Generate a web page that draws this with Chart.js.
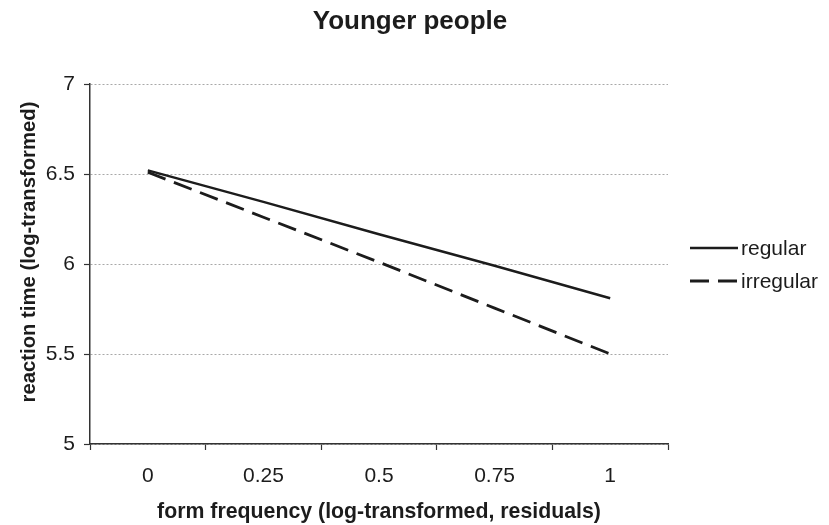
<!DOCTYPE html>
<html>
<head>
<meta charset="utf-8">
<script src="https://cdn.jsdelivr.net/npm/chart.js@4"></script>
<style>
  html, body { margin: 0; padding: 0; background: #fff; }
  canvas { display: block; }
</style>
</head>
<body>
<canvas id="c" width="829" height="525"></canvas>
<script>
// Frequency categories on the x axis
const categories = ['0', '0.25', '0.5', '0.75', '1'];
// Predicted reaction times (log-transformed)
const regular = [6.52, 6.345, 6.165, 5.99, 5.81];
const irregular = [6.51, 6.26, 6.01, 5.755, 5.5];
// Value axis ticks
const yTicks = [5, 5.5, 6, 6.5, 7];
const seriesNames = ['regular', 'irregular'];

const FONT = '"Liberation Sans", Arial, Helvetica, sans-serif';
const INK = '#1c1c1c';

// Titles and the legend drawn at fixed spots around the plot
const annotations = {
  id: 'annotations',
  afterDraw(chart) {
    const ctx = chart.ctx;
    const area = chart.chartArea;
    ctx.save();
    ctx.fillStyle = INK;
    ctx.textAlign = 'center';
    ctx.textBaseline = 'alphabetic';

    ctx.font = 'bold 26px ' + FONT;
    ctx.fillText('Younger people', 410, 29);

    ctx.font = 'bold 21.3px ' + FONT;
    ctx.fillText('form frequency (log-transformed, residuals)', (area.left + area.right) / 2, 518);

    ctx.save();
    ctx.font = 'bold 20.3px ' + FONT;
    ctx.translate(35, 252);
    ctx.rotate(-Math.PI / 2);
    ctx.fillText('reaction time (log-transformed)', 0, 0);
    ctx.restore();

    // legend
    const rows = [248, 281];
    ctx.font = '21px ' + FONT;
    ctx.textAlign = 'left';
    chart.data.datasets.forEach((ds, i) => {
      const y = rows[i];
      ctx.save();
      ctx.strokeStyle = ds.borderColor;
      ctx.lineWidth = ds.borderWidth;
      ctx.setLineDash(ds.borderDash || []);
      ctx.beginPath();
      ctx.moveTo(690, y);
      ctx.lineTo(738, y);
      ctx.stroke();
      ctx.restore();
      ctx.fillText(ds.label, 741, y + 6.5);
    });
    ctx.restore();
  }
};

new Chart(document.getElementById('c'), {
  type: 'line',
  data: {
    labels: categories,
    datasets: [
      {
        label: seriesNames[0],
        data: regular,
        borderColor: INK,
        borderWidth: 2.5,
        pointRadius: 0,
        tension: 0,
        fill: false
      },
      {
        label: seriesNames[1],
        data: irregular,
        borderColor: INK,
        borderWidth: 2.8,
        borderDash: [19, 9],
        pointRadius: 0,
        tension: 0,
        fill: false
      }
    ]
  },
  options: {
    responsive: false,
    animation: false,
    devicePixelRatio: 1,
    layout: { padding: { top: 84, right: 161, left: 0, bottom: 0 } },
    plugins: {
      legend: { display: false },
      title: { display: false },
      tooltip: { enabled: false }
    },
    scales: {
      x: {
        type: 'category',
        offset: true,
        afterFit(scale) { scale.height = 81; },
        grid: {
          display: true,
          offset: true,
          drawOnChartArea: false,
          drawTicks: true,
          tickLength: 6,
          tickColor: '#333',
          tickWidth: 1.2
        },
        border: { display: true, color: '#333', width: 1.5 },
        ticks: {
          color: INK,
          font: { family: FONT, size: 21 },
          padding: 14,
          maxRotation: 0,
          autoSkip: false
        }
      },
      y: {
        min: 5,
        max: 7,
        afterFit(scale) { scale.width = 90; },
        afterBuildTicks(scale) { scale.ticks = yTicks.map(v => ({ value: v })); },
        grid: {
          color: '#a8a8a8',
          lineWidth: 1,
          drawTicks: true,
          tickLength: 6,
          tickColor: '#333',
          tickBorderDash: [],
          tickWidth: 1.2
        },
        border: { display: true, color: '#333', width: 1.5, dash: [2, 2] },
        ticks: {
          color: INK,
          font: { family: FONT, size: 21 },
          padding: 9,
          callback: (v) => String(v)
        }
      }
    }
  },
  plugins: [annotations]
});
</script>
</body>
</html>
